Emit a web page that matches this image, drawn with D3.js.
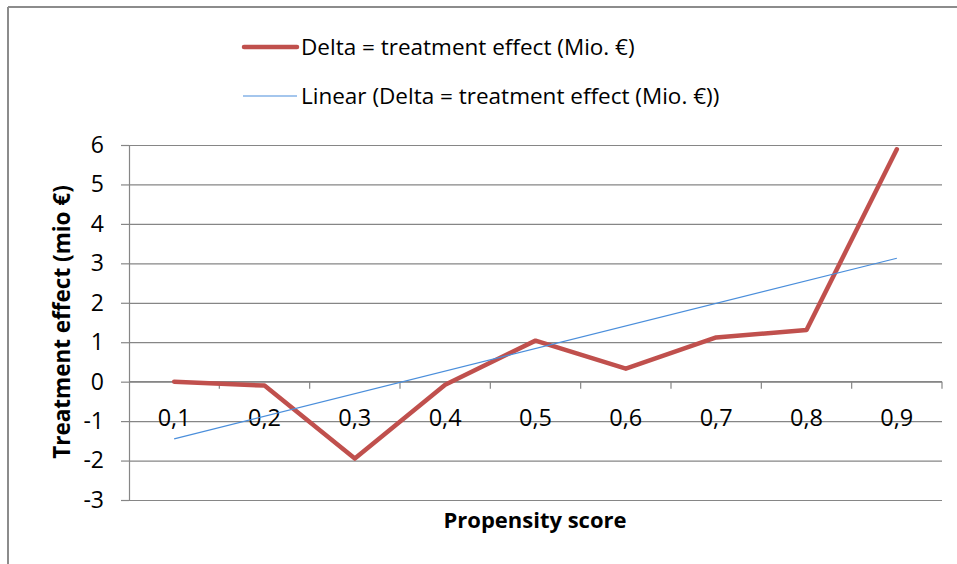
<!DOCTYPE html>
<html>
<head>
<meta charset="utf-8">
<script src="https://cdn.jsdelivr.net/npm/d3@7"></script>
<style>
  html, body { margin: 0; padding: 0; background: #fff; }
  svg { display: block; }
  text { font-family: "Open Sans", Lato, sans-serif; fill: #000; }
</style>
</head>
<body>
<script>
// Propensity score buckets and the estimated treatment effect in each bucket
const categories = ["0,1", "0,2", "0,3", "0,4", "0,5", "0,6", "0,7", "0,8", "0,9"];
const deltaValues = [0.0, -0.1, -1.95, -0.08, 1.04, 0.33, 1.12, 1.31, 5.89];
const yTicks = [-3, -2, -1, 0, 1, 2, 3, 4, 5, 6];
const seriesName = "Delta = treatment effect (Mio. €)";
const trendName = "Linear (Delta = treatment effect (Mio. €))";

const W = 957, H = 564;
const margin = { left: 129, right: 15, top: 145, bottom: 64 };
const FONT = "'Open Sans', Lato, sans-serif";

const svg = d3.select("body").append("svg").attr("width", W).attr("height", H);

// Chart frame (top and left edges)
svg.append("line").attr("x1", 8).attr("x2", W).attr("y1", 7).attr("y2", 7)
  .attr("stroke", "#8c8c8c").attr("stroke-width", 2);
svg.append("line").attr("x1", 8).attr("x2", 8).attr("y1", 7).attr("y2", H)
  .attr("stroke", "#8c8c8c").attr("stroke-width", 2);

const x = d3.scaleBand().domain(categories).range([margin.left, 942]);
const y = d3.scaleLinear().domain([-3, 6]).range([500, margin.top]);

// Horizontal gridlines with small tick stubs on the left
const yAxis = d3.axisLeft(y).tickValues(yTicks).tickSize(8).tickPadding(17)
  .tickFormat(d => d3.format("d")(d).replace("−", "-"));
const gy = svg.append("g").attr("transform", `translate(${margin.left},0)`).call(yAxis);
gy.select(".domain").attr("stroke", "#868686").attr("stroke-width", 1.2);
gy.selectAll(".tick line").attr("stroke", "#868686").attr("stroke-width", 1.2);
gy.selectAll(".tick text").attr("font-size", 23).attr("fill", "#000")
  .style("font-family", FONT);
gy.selectAll(".tick").append("line")
  .attr("x1", 0).attr("x2", 942 - margin.left)
  .attr("stroke", "#868686").attr("stroke-width", 1.2);

// Category axis crossing at zero, ticks between categories
const gx = svg.append("g").attr("transform", `translate(0,${y(0)})`);
gx.append("line").attr("x1", margin.left).attr("x2", 942)
  .attr("stroke", "#868686").attr("stroke-width", 1.2);
const bounds = categories.map(c => x(c) + x.bandwidth());
gx.selectAll("line.tk").data(bounds).enter().append("line").attr("class", "tk")
  .attr("x1", d => d).attr("x2", d => d).attr("y1", 0).attr("y2", 7)
  .attr("stroke", "#868686").attr("stroke-width", 1.2);
gx.selectAll("text.lbl").data(categories).enter().append("text").attr("class", "lbl")
  .attr("x", d => x(d) + x.bandwidth() / 2).attr("y", 44)
  .attr("text-anchor", "middle").attr("font-size", 23.5).text(d => d);

// Least-squares linear trend across the category positions
const idx = deltaValues.map((_, i) => i + 1);
const mx = d3.mean(idx), my = d3.mean(deltaValues);
const slope = d3.sum(idx, (v, i) => (v - mx) * (deltaValues[i] - my)) /
              d3.sum(idx, v => (v - mx) * (v - mx));
const intercept = my - slope * mx;
const trendValues = idx.map(v => intercept + slope * v);

const cx = i => x(categories[i]) + x.bandwidth() / 2;
const line = d3.line().x((d, i) => cx(i)).y(d => y(d));

svg.append("path").datum(deltaValues).attr("d", line)
  .attr("fill", "none").attr("stroke", "#C0504D").attr("stroke-width", 4.5)
  .attr("stroke-linejoin", "round").attr("stroke-linecap", "round");

svg.append("path").datum([trendValues[0], trendValues[trendValues.length - 1]])
  .attr("d", d3.line().x((d, i) => cx(i === 0 ? 0 : categories.length - 1)).y(d => y(d)))
  .attr("fill", "none").attr("stroke", "#4A8EDB").attr("stroke-width", 1.2);

// Legend
const legend = svg.append("g");
legend.append("line").attr("x1", 244).attr("x2", 297).attr("y1", 47).attr("y2", 47)
  .attr("stroke", "#C0504D").attr("stroke-width", 4.5).attr("stroke-linecap", "round");
legend.append("text").attr("x", 301).attr("y", 55).attr("font-size", 22.5).text(seriesName);
legend.append("line").attr("x1", 243).attr("x2", 297).attr("y1", 96).attr("y2", 96)
  .attr("stroke", "#4A8EDB").attr("stroke-width", 1.2);
legend.append("text").attr("x", 301).attr("y", 104).attr("font-size", 22.5).text(trendName);

// Axis titles
svg.append("text").attr("x", 535).attr("y", 528).attr("text-anchor", "middle")
  .attr("font-size", 22).attr("font-weight", "bold").text("Propensity score");
svg.append("text").attr("transform", "translate(70,322) rotate(-90)")
  .attr("text-anchor", "middle").attr("font-size", 22.5).attr("font-weight", "bold")
  .text("Treatment effect (mio €)");
</script>
</body>
</html>
